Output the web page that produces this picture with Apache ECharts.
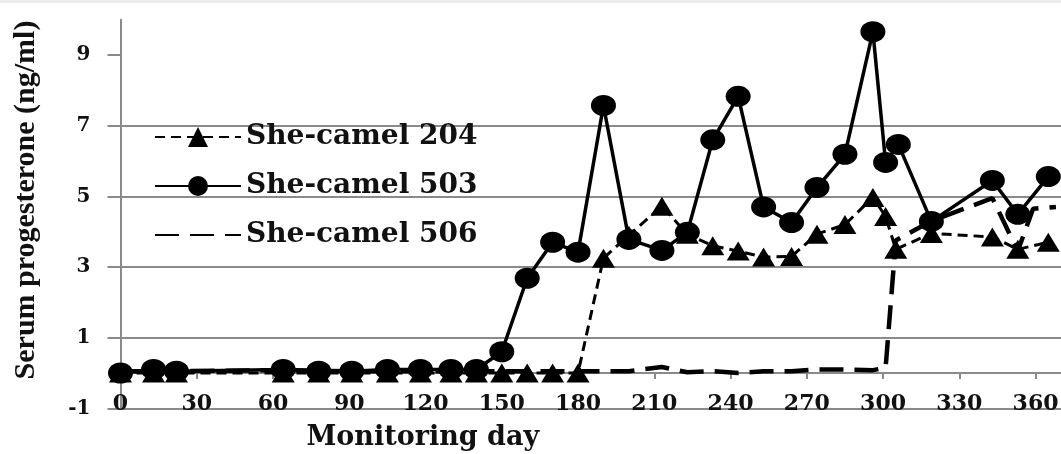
<!DOCTYPE html>
<html>
<head>
<meta charset="utf-8">
<script src="https://cdn.jsdelivr.net/npm/echarts@6/dist/echarts.min.js"></script>
<style>
  html, body { margin: 0; padding: 0; background: #fff; }
  #chart { width: 1061px; height: 454px; }
</style>
</head>
<body>
<div id="chart"></div>
<script>
// monitoring days and serum progesterone (ng/ml)
var days204 = [0, 13, 22, 64, 78, 91, 105, 118, 130, 140, 150, 160, 170, 180, 190, 200, 213, 223, 233, 243, 253, 264, 274, 285, 296, 301, 305, 319, 343, 353, 365];
var vals204 = [0, 0, 0, 0, 0, 0, 0, 0, 0, 0, 0, 0, 0, 0, 3.25, 3.9, 4.72, 3.93, 3.6, 3.45, 3.28, 3.3, 3.93, 4.2, 4.97, 4.43, 3.5, 3.95, 3.85, 3.5, 3.7];

var days503 = [0, 13, 22, 64, 78, 91, 105, 118, 130, 140, 150, 160, 170, 180, 190, 200, 213, 223, 233, 243, 253, 264, 274, 285, 296, 301, 306, 319, 343, 353, 365];
var vals503 = [0, 0.1, 0.05, 0.1, 0.05, 0.05, 0.1, 0.1, 0.1, 0.1, 0.6, 2.68, 3.7, 3.42, 7.57, 3.78, 3.47, 3.98, 6.6, 7.83, 4.7, 4.26, 5.25, 6.19, 9.66, 5.96, 6.47, 4.29, 5.45, 4.49, 5.56];

var days506 = [0, 22, 64, 91, 118, 140, 160, 180, 200, 213, 223, 233, 243, 253, 264, 274, 285, 296, 301, 305, 319, 343, 353, 359, 368];
var vals506 = [0.05, 0.05, 0.08, 0.05, 0.05, 0.05, 0.05, 0.05, 0.05, 0.17, 0.02, 0.05, 0.0, 0.05, 0.05, 0.1, 0.1, 0.08, 0.15, 3.75, 4.3, 4.95, 3.45, 4.65, 4.7];

var seriesNames = ['She-camel 204', 'She-camel 503', 'She-camel 506'];
var yTicks = [-1, 1, 3, 5, 7, 9];

function pairs(xs, ys) {
  return xs.map(function(d, i) { return [d, ys[i]]; });
}

var grey = '#8a8a8a';
var serif = 'DejaVu Serif';

var chart = echarts.init(document.getElementById('chart'), null, { renderer: 'canvas' });
var option = {
  animation: false,
  backgroundColor: '#fff',
  graphic: [{
    type: 'rect', left: 0, top: 0, shape: { width: 1061, height: 3 },
    style: { fill: '#ececec' }, silent: true
  }],
  grid: { left: 120.5, right: 0, top: 19.7, bottom: 45.7, outerBoundsMode: 'none' },
  legend: {
    orient: 'vertical',
    left: 149,
    top: 118,
    itemWidth: 86,
    itemHeight: 25,
    itemGap: 21,
    data: [
      { name: seriesNames[0] },
      { name: seriesNames[1] },
      // 506 has no marker, only the dashed line
      { name: seriesNames[2], itemStyle: { color: 'rgba(0,0,0,0)', borderWidth: 0 } }
    ],
    textStyle: { fontFamily: serif, fontWeight: 'bold', fontSize: 28, color: '#111' }
  },
  xAxis: {
    type: 'value',
    min: 0,
    max: 370,
    interval: 30,
    name: 'Monitoring day',
    nameLocation: 'middle',
    nameGap: 16,
    nameTextStyle: { fontFamily: serif, fontWeight: 'bold', fontSize: 27, color: '#111', padding: [0, 336, 0, 0] },
    axisLine: { onZero: true, lineStyle: { color: grey, width: 2 } },
    axisTick: { show: true, length: 6, lineStyle: { color: grey, width: 2 } },
    axisLabel: { margin: -15, showMaxLabel: false, fontFamily: serif, fontWeight: 'bold', fontSize: 22, color: '#111' },
    splitLine: { show: false }
  },
  yAxis: {
    type: 'value',
    min: -1,
    max: 10,
    interval: 2,
    name: 'Serum progesterone (ng/ml)',
    nameLocation: 'middle',
    nameGap: 79,
    nameTextStyle: { fontFamily: 'Liberation Serif', fontWeight: 'bold', fontSize: 30, color: '#111', padding: [0, 0, 0, 28] },
    axisLine: { show: true, lineStyle: { color: grey, width: 2 } },
    axisTick: { show: true, length: 13, customValues: yTicks, lineStyle: { color: grey, width: 2 } },
    axisLabel: { margin: 30, customValues: yTicks, fontFamily: serif, fontWeight: 'bold', fontSize: 20, color: '#111' },
    splitLine: { show: true, showMaxLine: false, lineStyle: { color: grey, width: 2 } }
  },
  series: [
    {
      name: seriesNames[0],
      type: 'line',
      data: pairs(days204, vals204),
      symbol: 'triangle',
      symbolSize: [23, 19],
      itemStyle: { color: '#000' },
      lineStyle: { color: '#000', width: 3, type: [10, 6] }
    },
    {
      name: seriesNames[1],
      type: 'line',
      data: pairs(days503, vals503),
      symbol: 'circle',
      symbolSize: [25, 21],
      itemStyle: { color: '#000' },
      lineStyle: { color: '#000', width: 3.5 }
    },
    {
      name: seriesNames[2],
      type: 'line',
      data: pairs(days506, vals506),
      symbol: 'none',
      itemStyle: { color: '#000' },
      lineStyle: { color: '#000', width: 4.5, type: [24, 11] }
    }
  ]
};
chart.setOption(option);
window.addEventListener('resize', function() { chart.resize(); });
</script>
</body>
</html>
